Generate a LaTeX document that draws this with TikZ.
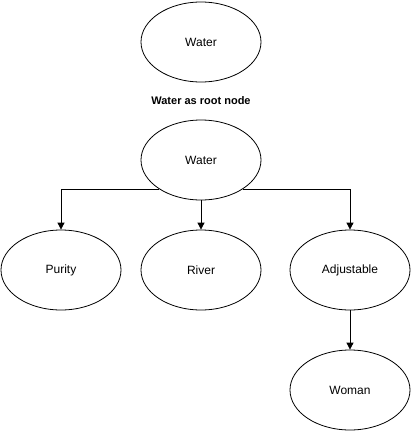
\documentclass[tikz,border=0pt]{standalone}
\usepackage{fontspec}
\setmainfont{Liberation Sans}
\usetikzlibrary{shapes.geometric,arrows.meta}
\begin{document}
\begin{tikzpicture}[x=1pt,y=-1pt,
  ell/.style={draw,ellipse,line width=0.8pt,minimum width=120pt,minimum height=80pt,inner sep=0pt,font=\fontsize{12}{14}\selectfont},
  arr/.style={draw,line width=0.8pt,-{Triangle[length=7pt,width=7pt]}}]
\useasboundingbox (0,0) rectangle (411,431);
\node[ell] (w1) at (201,42) {Water};
\node[font=\bfseries\fontsize{11}{13}\selectfont] (lbl) at (201,101) {Water as root node};
\node[ell] (w2) at (201,160) {Water};
\node[ell] (pur) at (61,270) {Purity};
\node[ell] (riv) at (201,270) {River};
\node[ell] (adj) at (350,270) {Adjustable};
\node[ell] (wom) at (350,390) {Woman};
\draw[arr] (w2.215) -| (pur.north);
\draw[arr] (w2.south) -- (riv.north);
\draw[arr] (w2.325) -| (adj.north);
\draw[arr] (adj.south) -- (wom.north);
\end{tikzpicture}
\end{document}
